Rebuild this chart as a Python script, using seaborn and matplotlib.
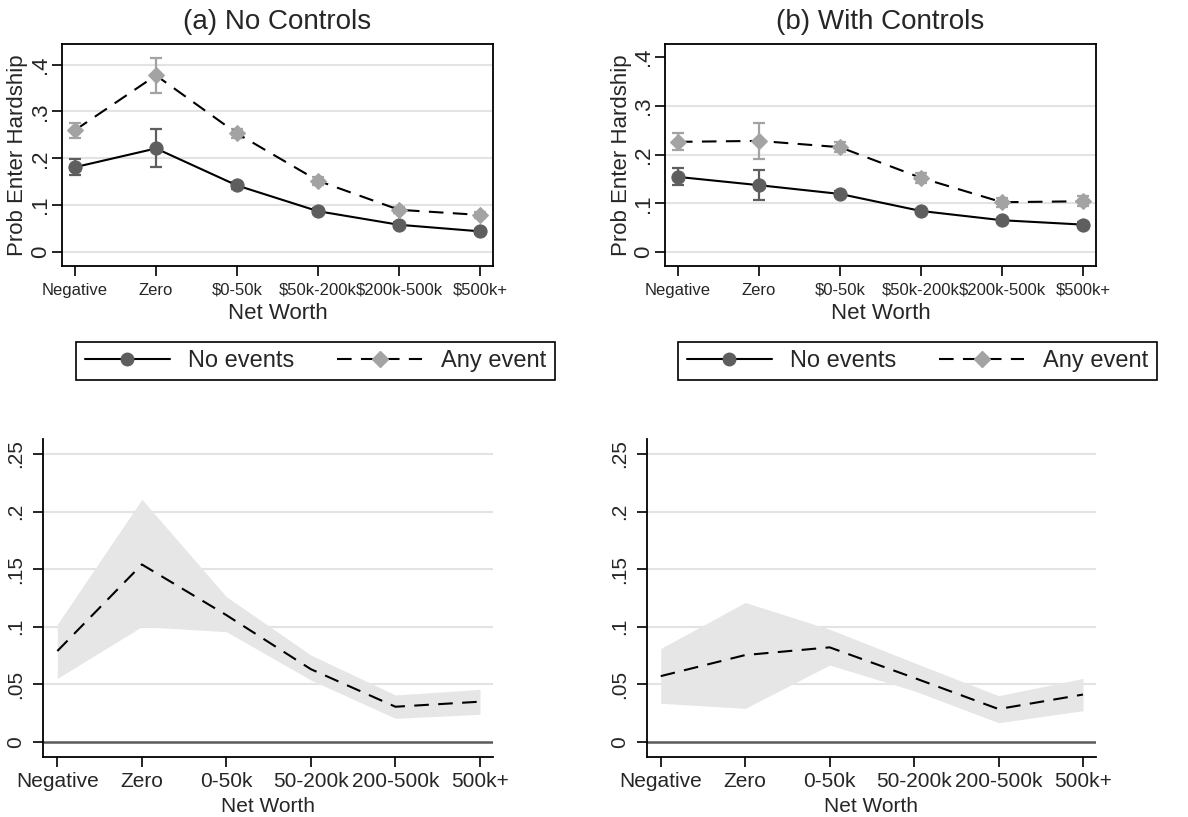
import numpy as np
import pandas as pd
import matplotlib
matplotlib.use("Agg")
import matplotlib.pyplot as plt
from matplotlib.lines import Line2D
import seaborn as sns

# ---------------- data ----------------
cats_top = ["Negative", "Zero", "$0-50k", "$50k-200k", "$200k-500k", "$500k+"]
cats_bot = ["Negative", "Zero", "0-50k", "50-200k", "200-500k", "500k+"]

# (a) No Controls
a_none = [0.181, 0.221, 0.142, 0.087, 0.058, 0.044]
a_none_lo = [0.164, 0.182, 0.134, 0.081, 0.053, 0.039]
a_none_hi = [0.198, 0.262, 0.150, 0.093, 0.063, 0.049]
a_any = [0.260, 0.377, 0.253, 0.152, 0.090, 0.079]
a_any_lo = [0.244, 0.340, 0.243, 0.144, 0.083, 0.073]
a_any_hi = [0.276, 0.415, 0.263, 0.160, 0.097, 0.085]

# (b) With Controls
b_none = [0.154, 0.137, 0.119, 0.084, 0.065, 0.056]
b_none_lo = [0.137, 0.106, 0.112, 0.079, 0.060, 0.051]
b_none_hi = [0.172, 0.168, 0.126, 0.089, 0.070, 0.061]
b_any = [0.226, 0.228, 0.215, 0.152, 0.102, 0.104]
b_any_lo = [0.210, 0.191, 0.205, 0.142, 0.093, 0.094]
b_any_hi = [0.244, 0.265, 0.225, 0.162, 0.111, 0.114]

# differences (bottom panels)
c_diff = [0.0788, 0.154, 0.110, 0.063, 0.0304, 0.0348]
c_lo = [0.055, 0.100, 0.0956, 0.0536, 0.0203, 0.0238]
c_hi = [0.102, 0.2106, 0.126, 0.0753, 0.0406, 0.0455]
d_diff = [0.057, 0.0753, 0.082, 0.0555, 0.0284, 0.041]
d_lo = [0.0334, 0.029, 0.0666, 0.0443, 0.0165, 0.027]
d_hi = [0.081, 0.121, 0.0977, 0.0687, 0.040, 0.055]

top_ticks = [0, 0.1, 0.2, 0.3, 0.4]
top_ticklabels = ["0", ".1", ".2", ".3", ".4"]
bot_ticks = [0, 0.05, 0.1, 0.15, 0.2, 0.25]
bot_ticklabels = ["0", ".05", ".1", ".15", ".2", ".25"]

# ---------------- style ----------------
sns.set_theme(style="white")
plt.rcParams["font.family"] = ["Liberation Sans", "DejaVu Sans"]

DARK = "#5e5e5e"
LIGHT = "#a3a3a3"
GRID = "#e3e3e3"
BAND = "#e6e6e6"
DASH = (0, (7, 4.5))

W, H = 1188, 817
fig = plt.figure(figsize=(W / 100, H / 100), dpi=100)


def ax_px(left, right, top, bottom):
    return fig.add_axes([left / W, 1 - bottom / H, (right - left) / W, (bottom - top) / H])


def top_panel(ax, none, nlo, nhi, anyv, alo, ahi, ylim, grid_vals, title):
    x = np.arange(len(cats_top))
    df = pd.DataFrame({"x": x, "none": none, "any": anyv})
    for g in grid_vals:
        ax.axhline(g, color=GRID, lw=1.5, zorder=0)
    ax.errorbar(x, none, yerr=[np.array(none) - np.array(nlo), np.array(nhi) - np.array(none)],
                fmt="none", ecolor=DARK, elinewidth=1.6, capsize=4.5, capthick=1.6, zorder=2)
    ax.errorbar(x, anyv, yerr=[np.array(anyv) - np.array(alo), np.array(ahi) - np.array(anyv)],
                fmt="none", ecolor=LIGHT, elinewidth=1.6, capsize=4.5, capthick=1.6, zorder=2)
    sns.lineplot(data=df, x="x", y="none", ax=ax, color="black", lw=1.5,
                 marker="o", markersize=9.5, markerfacecolor=DARK, markeredgecolor=DARK, zorder=3)
    sns.lineplot(data=df, x="x", y="any", ax=ax, color="black", lw=1.5, linestyle=DASH,
                 marker="D", markersize=8.5, markerfacecolor=LIGHT, markeredgecolor=LIGHT, zorder=3)
    ax.set_xlim(-0.16, 5.16)
    ax.set_ylim(*ylim)
    ax.set_xticks(x)
    ax.set_xticklabels(cats_top, fontsize=12)
    ax.set_yticks(top_ticks)
    ax.set_yticklabels(top_ticklabels, fontsize=16, rotation=90, va="center")
    ax.set_xlabel("Net Worth", fontsize=16, labelpad=4)
    ax.set_ylabel("Prob Enter Hardship", fontsize=16, labelpad=1)
    ax.set_title(title, fontsize=20, pad=11)
    for s in ax.spines.values():
        s.set_visible(True)
        s.set_color("black")
        s.set_linewidth(1.3)
    ax.tick_params(axis="both", which="major", direction="out", length=7, width=1.2,
                   color="black", bottom=True, left=True)
    ax.tick_params(axis="x", pad=5)
    ax.tick_params(axis="y", pad=1)
    ax.grid(False)


def bot_panel(ax, diff, lo, hi):
    x = np.arange(len(cats_bot))
    df = pd.DataFrame({"x": x, "diff": diff})
    for g in bot_ticks[1:]:
        ax.axhline(g, color=GRID, lw=1.5, zorder=0)
    ax.axhline(0, color="#5a5a5a", lw=1.8, zorder=1)
    ax.fill_between(x, lo, hi, color=BAND, lw=0, zorder=1)
    sns.lineplot(data=df, x="x", y="diff", ax=ax, color="black", lw=1.5, linestyle=DASH, zorder=3)
    ax.set_xlim(-0.166, 5.154)
    ax.set_ylim(-0.013, 0.263)
    ax.set_xticks(x)
    ax.set_xticklabels(cats_bot, fontsize=15)
    ax.set_yticks(bot_ticks)
    ax.set_yticklabels(bot_ticklabels, fontsize=15, rotation=90, va="center")
    ax.set_xlabel("Net Worth", fontsize=15, labelpad=4)
    ax.set_ylabel("")
    for side in ["top", "right"]:
        ax.spines[side].set_visible(False)
    for side in ["left", "bottom"]:
        ax.spines[side].set_visible(True)
        ax.spines[side].set_color("black")
        ax.spines[side].set_linewidth(1.3)
    ax.tick_params(axis="both", which="major", direction="out", length=7, width=1.2,
                   color="black", bottom=True, left=True)
    ax.tick_params(axis="x", pad=4)
    ax.tick_params(axis="y", pad=6)
    ax.grid(False)


ax1 = ax_px(62, 493, 44, 266)
ax2 = ax_px(665, 1096, 44, 266)
ax3 = ax_px(43.3, 493, 439, 756.7)
ax4 = ax_px(646.7, 1096, 439, 756.7)

top_panel(ax1, a_none, a_none_lo, a_none_hi, a_any, a_any_lo, a_any_hi,
          (-0.03, 0.444), [0, 0.1, 0.2, 0.3, 0.4], "(a) No Controls")
top_panel(ax2, b_none, b_none_lo, b_none_hi, b_any, b_any_lo, b_any_hi,
          (-0.029, 0.427), [0, 0.1, 0.2, 0.3], "(b) With Controls")
bot_panel(ax3, c_diff, c_lo, c_hi)
bot_panel(ax4, d_diff, d_lo, d_hi)

handles = [
    Line2D([0], [0], color="black", lw=1.5, marker="o", markersize=9,
           markerfacecolor=DARK, markeredgecolor=DARK),
    Line2D([0], [0], color="black", lw=1.5, linestyle=DASH, marker="D", markersize=8,
           markerfacecolor=LIGHT, markeredgecolor=LIGHT),
]
labels = ["No events", "Any event"]
for cx in [(78.3 + 552.7) / 2, (682.7 + 1152.3) / 2]:
    leg = fig.legend(handles, labels, loc="center", bbox_to_anchor=(cx / W, 1 - 361 / H),
                     ncol=2, fontsize=17, frameon=True, fancybox=False, framealpha=1,
                     edgecolor="black", handlelength=3.6, handletextpad=0.8,
                     columnspacing=1.8, borderpad=0.35, borderaxespad=0)
    leg.get_frame().set_linewidth(1.2)

fig.savefig("out.png", dpi=100)
